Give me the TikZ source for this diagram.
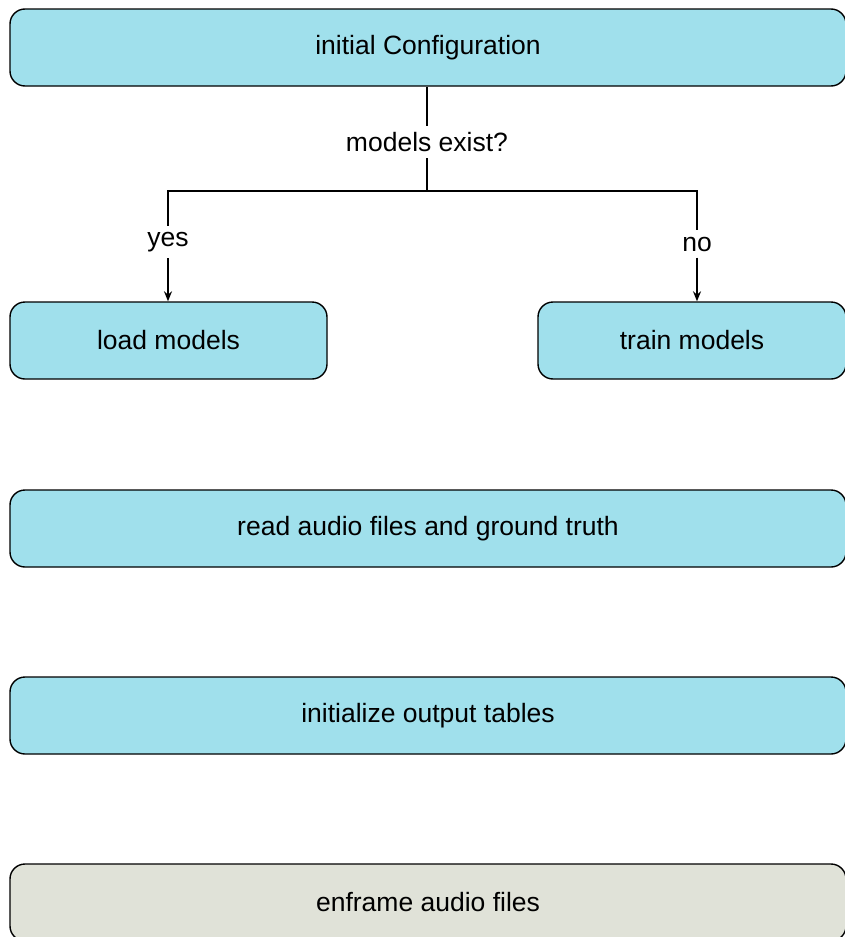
\documentclass[tikz,border=0pt]{standalone}
\usepackage{fontspec}
\setmainfont{Liberation Sans}
\usetikzlibrary{arrows.meta}
\definecolor{stepcyan}{RGB}{160,224,236}
\definecolor{stepgray}{RGB}{224,226,216}

\tikzset{
    stepbox/.style={draw=black,line width=0.7pt,fill=stepcyan,rounded corners=7.5pt,
        minimum height=38.5pt,inner sep=0pt,font=\fontsize{13.25}{16}\selectfont},
    pendbox/.style={stepbox,fill=stepgray},
    asklabel/.style={inner sep=3pt,font=\fontsize{13.25}{16}\selectfont},
    flow/.style={line width=0.7pt},
    flowarrow/.style={flow,-{Stealth[length=5pt,width=4pt]}}
}

\begin{document}
\begin{tikzpicture}[x=0.5pt,y=-0.5pt]
    \useasboundingbox (0,0) rectangle (845,937);
    \clip (0,0) rectangle (845,937);

    % Setup and model branch
    \node[stepbox,minimum width=418pt] (cfg) at (428,47.5) {initial Configuration};
    \node[asklabel] (exist) at (427,142) {models exist?};
    \coordinate (split) at (427,191);

    \node[stepbox,minimum width=158.5pt] (load)  at (168.5,340.5) {load models};
    \node[stepbox,minimum width=154pt]   (train) at (692,340.5)   {train models};

    \node[asklabel] (yes) at (168,242) {yes};
    \node[asklabel] (no)  at (697,244) {no};

    % Remaining steps
    \node[stepbox,minimum width=418pt] (read)  at (428,528.5) {read audio files and ground truth};
    \node[stepbox,minimum width=418pt] (init)  at (428,715.5) {initialize output tables};
    \node[pendbox,minimum width=418pt] (frame) at (428,902.5) {enframe audio files};

    % Decision lines
    \draw[flow] (exist |- cfg.south) -- (exist.north);
    \draw[flow] (exist.south) -- (split);
    \draw[flow] (yes.north) -- (yes |- split) -- (no |- split) -- (no.north);
    \draw[flowarrow] (yes.south) -- (yes |- load.north);
    \draw[flowarrow] (no.south) -- (no |- train.north);
\end{tikzpicture}
\end{document}
